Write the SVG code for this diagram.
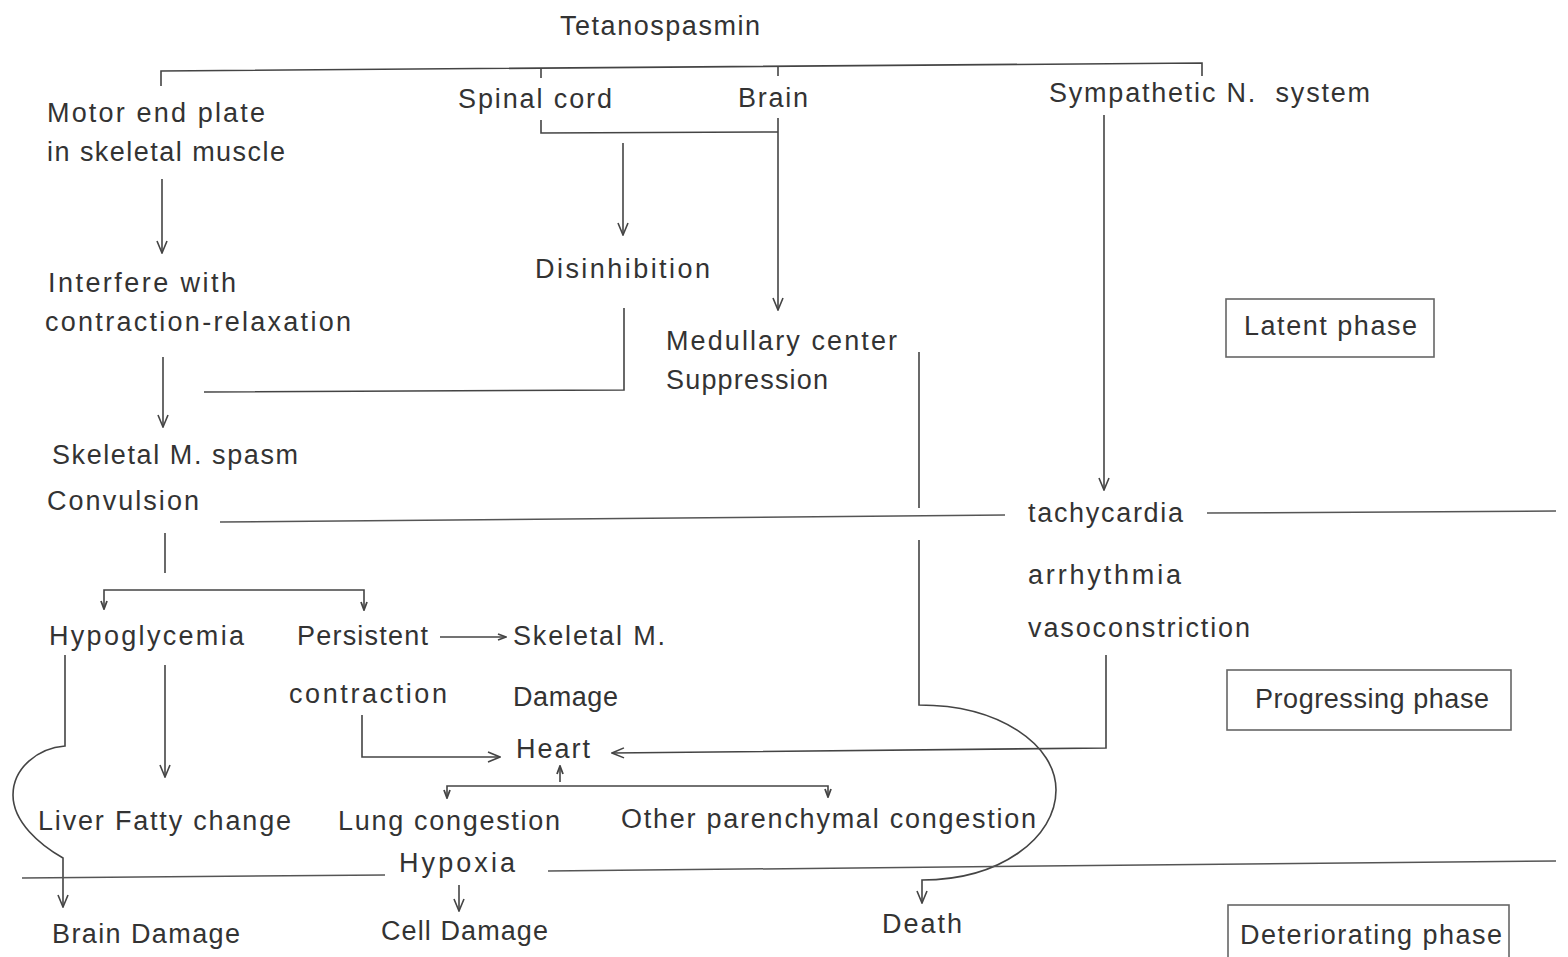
<svg xmlns="http://www.w3.org/2000/svg" width="1568" height="957" viewBox="0 0 1568 957">
<style>
text{font-family:"Liberation Sans","Arial",sans-serif;font-size:27px;fill:#333;}
.c{fill:none;stroke:#444;stroke-width:1.6;}
.d{fill:none;stroke:#555;stroke-width:1.5;}
.box{fill:none;stroke:#666;stroke-width:1.6;}
.a{marker-end:url(#arr);}
.s{marker-end:url(#sm);}
</style>
<defs>
<marker id="arr" viewBox="0 0 14 12" refX="13" refY="6" markerWidth="14" markerHeight="12" markerUnits="userSpaceOnUse" orient="auto">
<path d="M1,1 L13,6 L1,11" fill="none" stroke="#444" stroke-width="1.6"/>
</marker>
<marker id="sm" viewBox="0 0 10 8" refX="9" refY="4" markerWidth="10" markerHeight="8" markerUnits="userSpaceOnUse" orient="auto">
<path d="M1,1 L9,4 L1,7" fill="none" stroke="#444" stroke-width="1.8"/>
</marker>
</defs>
<rect width="1568" height="957" fill="#fff"/>
<g id="connectors">
<path class="c" d="M161,86 L161,71 L1202,63 L1202,76"/>
<path class="c" d="M541,68 L541,78"/>
<path class="c" d="M778,66 L778,76"/>
<path class="c" d="M541,120 L541,133 L778,132"/>
<path class="c a" d="M778,118 L778,310"/>
<path class="c a" d="M623,143 L623,235"/>
<path class="c a" d="M162,179 L162,253"/>
<path class="c" d="M624,308 L624,390 L204,392"/>
<path class="c a" d="M163,357 L163,427"/>
<path class="c a" d="M1104,115 L1104,490"/>
<path class="c" d="M919,352 L919,508"/>
<path class="c a" d="M919,540 L919,705 C1000,705 1056,745 1056,790 C1056,838 1000,880 922,880 L922,903"/>
<path class="c" d="M165,533 L165,573"/>
<path class="c s" d="M234,590 L104,590 L104,609"/>
<path class="c s" d="M234,590 L364,590 L364,610"/>
<path class="c s" d="M440,637 L506,637"/>
<path class="c a" d="M65,655 L65,746 C38,748 13,768 13,795 C13,822 40,845 63,858 L63,907"/>
<path class="c a" d="M165,665 L165,777"/>
<path class="c a" d="M362,715 L362,757 L500,757"/>
<path class="c a" d="M1106,655 L1106,748 L612,753"/>
<path class="c s" d="M560,782 L560,766"/>
<path class="c s" d="M560,786 L447,786 L447,798"/>
<path class="c s" d="M560,786 L828,786 L828,797"/>
<path class="c a" d="M459,885 L459,911"/>
</g>
<g id="phase-lines">
<path class="d" d="M220,522 L1005,515"/>
<path class="d" d="M1207,513 L1556,511"/>
<path class="d" d="M22,878 L385,875"/>
<path class="d" d="M548,871 L1556,861"/>
</g>
<g id="n-tetanospasmin"><text x="560" y="35" textLength="200" lengthAdjust="spacing">Tetanospasmin</text></g>
<g id="n-motor"><text x="47" y="122" textLength="218" lengthAdjust="spacing">Motor end plate</text><text x="47" y="161" textLength="238" lengthAdjust="spacing">in skeletal muscle</text></g>
<g id="n-spinal"><text x="458" y="108" textLength="154" lengthAdjust="spacing">Spinal cord</text></g>
<g id="n-brain"><text x="738" y="107" textLength="70" lengthAdjust="spacing">Brain</text></g>
<g id="n-sympathetic"><text x="1049" y="102" textLength="321" lengthAdjust="spacing" xml:space="preserve">Sympathetic N.  system</text></g>
<g id="n-interfere"><text x="48" y="292" textLength="188" lengthAdjust="spacing">Interfere with</text><text x="45" y="331" textLength="306" lengthAdjust="spacing">contraction-relaxation</text></g>
<g id="n-disinhibition"><text x="535" y="278" textLength="175" lengthAdjust="spacing">Disinhibition</text></g>
<g id="n-medullary"><text x="666" y="350" textLength="231" lengthAdjust="spacing">Medullary center</text><text x="666" y="389" textLength="162" lengthAdjust="spacing">Suppression</text></g>
<g id="n-latent"><rect class="box" x="1226" y="299" width="208" height="58"/><text x="1244" y="335" textLength="173" lengthAdjust="spacing">Latent phase</text></g>
<g id="n-spasm"><text x="52" y="464" textLength="246" lengthAdjust="spacing">Skeletal M. spasm</text><text x="47" y="510" textLength="152" lengthAdjust="spacing">Convulsion</text></g>
<g id="n-tachy"><text x="1028" y="522" textLength="155" lengthAdjust="spacing">tachycardia</text><text x="1028" y="584" textLength="153" lengthAdjust="spacing">arrhythmia</text><text x="1028" y="637" textLength="222" lengthAdjust="spacing">vasoconstriction</text></g>
<g id="n-hypoglycemia"><text x="49" y="645" textLength="195" lengthAdjust="spacing">Hypoglycemia</text></g>
<g id="n-persistent"><text x="297" y="645" textLength="131" lengthAdjust="spacing">Persistent</text><text x="289" y="703" textLength="158" lengthAdjust="spacing">contraction</text></g>
<g id="n-skeletal-damage"><text x="513" y="645" textLength="152" lengthAdjust="spacing">Skeletal M.</text><text x="513" y="706" textLength="105" lengthAdjust="spacing">Damage</text></g>
<g id="n-heart"><text x="516" y="758" textLength="74" lengthAdjust="spacing">Heart</text></g>
<g id="n-progressing"><rect class="box" x="1227" y="670" width="284" height="60"/><text x="1255" y="708" textLength="234" lengthAdjust="spacing">Progressing phase</text></g>
<g id="n-liver"><text x="38" y="830" textLength="253" lengthAdjust="spacing">Liver Fatty change</text></g>
<g id="n-lung"><text x="338" y="830" textLength="222" lengthAdjust="spacing">Lung congestion</text></g>
<g id="n-other"><text x="621" y="828" textLength="415" lengthAdjust="spacing">Other parenchymal congestion</text></g>
<g id="n-hypoxia"><text x="399" y="872" textLength="116" lengthAdjust="spacing">Hypoxia</text></g>
<g id="n-brain-damage"><text x="52" y="943" textLength="188" lengthAdjust="spacing">Brain Damage</text></g>
<g id="n-cell-damage"><text x="381" y="940" textLength="167" lengthAdjust="spacing">Cell Damage</text></g>
<g id="n-death"><text x="882" y="933" textLength="80" lengthAdjust="spacing">Death</text></g>
<g id="n-deteriorating"><rect class="box" x="1228" y="905" width="281" height="62"/><text x="1240" y="944" textLength="262" lengthAdjust="spacing">Deteriorating phase</text></g>
</svg>
